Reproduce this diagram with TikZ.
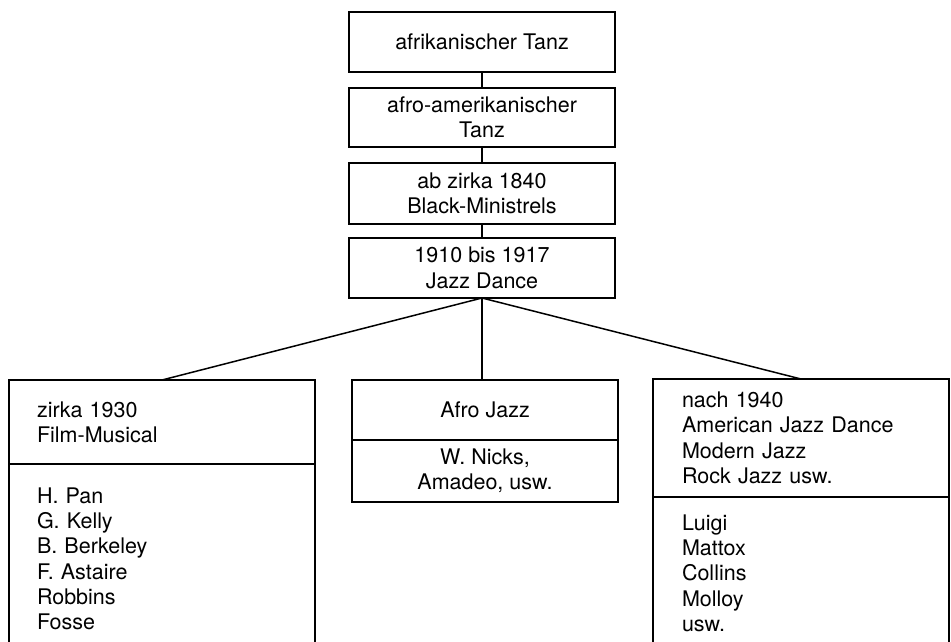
\documentclass[tikz,border=0pt]{standalone}
\usepackage{fontspec}
\setmainfont{TeX Gyre Heros}
\begin{document}
\begin{tikzpicture}[x=1pt,y=-1pt,
  every node/.style={font=\fontsize{21.5}{25.3}\selectfont},
  box/.style={draw, line width=1.5pt, inner sep=0pt, outer sep=0pt, align=center},
  listbox/.style={draw, line width=1.5pt, outer sep=0pt, align=left, anchor=north},
  link/.style={line width=1.5pt}]
\useasboundingbox (0,0) rectangle (951,642);
% top chain
\node[box, minimum width=266pt, minimum height=60pt] (a) at (482,42) {afrikanischer Tanz};
\node[box, minimum width=266pt, minimum height=59pt] (b) at (482,117.5) {afro-amerikanischer\\Tanz};
\node[box, minimum width=266pt, minimum height=61pt] (c) at (482,193.5) {ab zirka 1840\\Black-Ministrels};
\node[box, minimum width=266pt, minimum height=60pt] (j) at (482,268) {1910 bis 1917\\Jazz Dance};
% left box
\node[box, align=left, text width=250pt, inner xsep=28pt, minimum height=84pt] (film) at (162,422) {zirka 1930\\Film-Musical};
\node[listbox, text width=250pt, inner xsep=28pt, inner ysep=23.6pt] (filmnames) at (film.south)
  {H. Pan\\G. Kelly\\B. Berkeley\\F. Astaire\\Robbins\\Fosse};
% middle box
\node[box, minimum width=266pt, minimum height=60pt] (afro) at (485,410) {Afro Jazz};
\node[box, minimum width=266pt, minimum height=62pt, anchor=north] (afronames) at (afro.south) {W. Nicks,\\Amadeo, usw.};
% right box
\node[box, align=left, text width=238pt, inner xsep=29pt, minimum height=118pt] (modern) at (801,438)
  {nach 1940\\American Jazz Dance\\Modern Jazz\\Rock Jazz usw.};
\node[listbox, text width=238pt, inner xsep=29pt, inner ysep=17.6pt] (modernnames) at (modern.south)
  {Luigi\\Mattox\\Collins\\Molloy\\usw.};
% connectors
\draw[link] (a.south) -- (a.south |- b.north);
\draw[link] (b.south) -- (b.south |- c.north);
\draw[link] (c.south) -- (c.south |- j.north);
\draw[link] (j.south) -- (film.north);
\draw[link] (j.south) -- (j.south |- afro.north);
\draw[link] (j.south) -- (modern.north);
\end{tikzpicture}
\end{document}
